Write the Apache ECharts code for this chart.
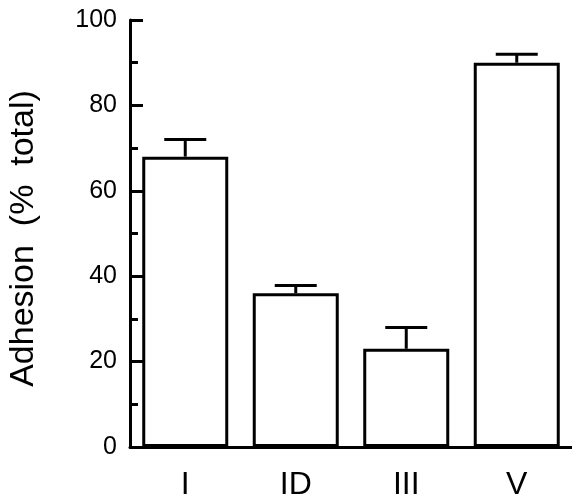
<!DOCTYPE html>
<html>
<head>
<meta charset="utf-8">
<script src="https://cdn.jsdelivr.net/npm/echarts@6/dist/echarts.min.js"></script>
<style>
  html, body { margin: 0; padding: 0; background: #fff; }
  #chart { width: 572px; height: 500px; }
</style>
</head>
<body>
<div id="chart"></div>
<script>
var categories = ['I', 'ID', 'III', 'V'];
var adhesion = [68, 36, 23, 90];
var errors = [4, 1.8, 5, 2];
var yTicks = [0, 20, 40, 60, 80, 100];

var myChart = echarts.init(document.getElementById('chart'));

var errorData = adhesion.map(function (v, i) {
  return [i, v, v + errors[i]];
});

option = {
  animation: false,
  backgroundColor: '#fff',
  grid: {
    left: 130,
    right: 0,
    top: 20,
    bottom: 53,
    outerBoundsMode: 'none'
  },
  xAxis: {
    type: 'category',
    data: categories,
    axisLine: { lineStyle: { color: '#000', width: 3 } },
    axisTick: { show: false },
    axisLabel: {
      color: '#000',
      fontFamily: 'Liberation Sans',
      fontSize: 32,
      margin: 22
    }
  },
  yAxis: {
    type: 'value',
    min: yTicks[0],
    max: yTicks[yTicks.length - 1],
    interval: 20,
    name: 'Adhesion  (%  total)',
    nameLocation: 'middle',
    nameGap: 89,
    nameTextStyle: {
      color: '#000',
      fontFamily: 'Liberation Sans',
      fontSize: 34,
      padding: [0, 10, 0, 0]
    },
    axisLine: { show: true, lineStyle: { color: '#000', width: 3 } },
    axisTick: { show: true, inside: true, length: 13, lineStyle: { color: '#000', width: 3 } },
    minorTick: { show: true, splitNumber: 2, length: 8, lineStyle: { color: '#000', width: 3 } },
    splitLine: { show: false },
    axisLabel: {
      color: '#000',
      fontFamily: 'Liberation Sans',
      fontSize: 25,
      margin: 13
    }
  },
  series: [
    {
      type: 'bar',
      data: adhesion,
      barWidth: 86,
      itemStyle: {
        color: '#fff',
        borderColor: '#000',
        borderWidth: 3
      }
    },
    {
      type: 'custom',
      data: errorData,
      z: 3,
      renderItem: function (params, api) {
        var base = api.coord([api.value(0), api.value(1)]);
        var top = api.coord([api.value(0), api.value(2)]);
        var half = 21;
        var style = { stroke: '#000', lineWidth: 3 };
        return {
          type: 'group',
          children: [
            { type: 'line', shape: { x1: base[0], y1: base[1], x2: top[0], y2: top[1] }, style: style },
            { type: 'line', shape: { x1: top[0] - half, y1: top[1], x2: top[0] + half, y2: top[1] }, style: style }
          ]
        };
      }
    }
  ]
};
myChart.setOption(option);
</script>
</body>
</html>
